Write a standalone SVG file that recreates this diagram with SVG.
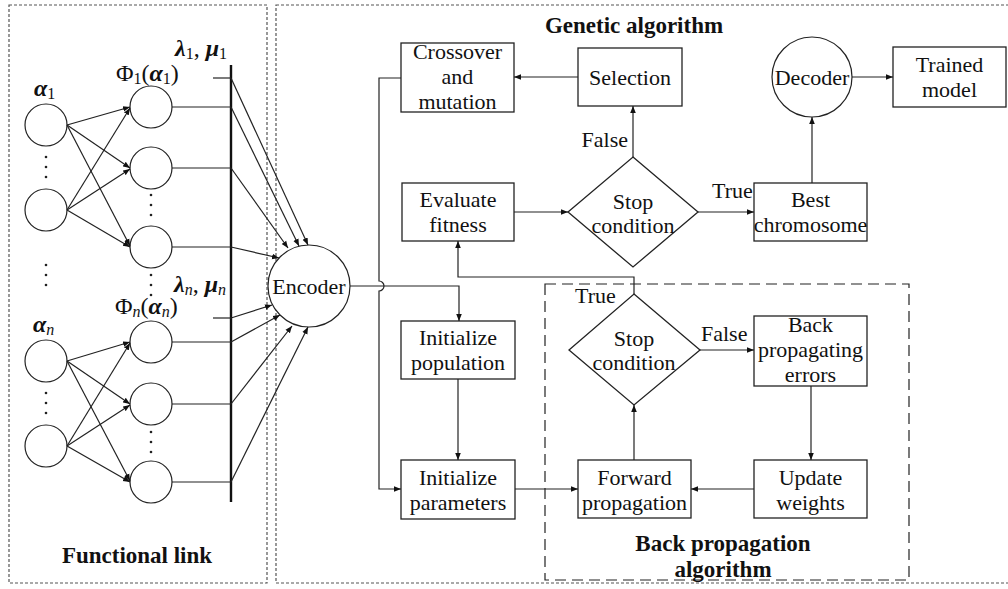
<svg xmlns="http://www.w3.org/2000/svg" width="1008" height="589" viewBox="0 0 1008 589" font-family="'Liberation Serif', 'Times New Roman', serif">
<defs>
<style>
text{font-family:'Liberation Serif','Times New Roman',Tinos,'DejaVu Serif',serif}
.t{font-size:22px;fill:#111;text-anchor:middle}
.ts{font-size:22px;fill:#111;text-anchor:start}
.te{font-size:22px;fill:#111;text-anchor:end}
.b{font-size:23px;font-weight:bold;fill:#111;text-anchor:middle}
.m{font-size:24px;fill:#111}
.bi{font-weight:bold;font-style:italic}
.it{font-style:italic}
.box{fill:#fff;stroke:#222;stroke-width:1.3}
.ln{fill:none;stroke:#222;stroke-width:1.2}
.cir{fill:#fff;stroke:#222;stroke-width:1.2}
.dot{fill:#222}
.outer{fill:none;stroke:#555;stroke-width:1.2;stroke-dasharray:3 2}
.bp{fill:none;stroke:#222;stroke-width:1.2;stroke-dasharray:11 6}
</style>
<marker id="ah" viewBox="0 0 10 10" refX="10" refY="5" markerWidth="7" markerHeight="7" orient="auto" markerUnits="userSpaceOnUse">
<path d="M0,1 L10,5 L0,9 z" fill="#111"/>
</marker>
</defs>
<rect width="1008" height="589" fill="#fff"/>

<g id="frames">
<rect class="outer" x="9" y="5" width="258" height="578"/>
<rect class="outer" x="276" y="5" width="740" height="578"/>
<rect class="bp" x="545" y="284" width="364" height="296"/>
</g>

<g id="functional-link">
<g id="input-nodes">
<circle class="cir" cx="46" cy="125" r="21"/>
<circle class="cir" cx="46" cy="210" r="21"/>
<circle class="cir" cx="46" cy="361" r="21"/>
<circle class="cir" cx="46" cy="446" r="21"/>
</g>
<g id="expansion-nodes">
<circle class="cir" cx="151" cy="107" r="21"/>
<circle class="cir" cx="151" cy="168" r="21"/>
<circle class="cir" cx="151" cy="247" r="21"/>
<circle class="cir" cx="151" cy="342" r="21"/>
<circle class="cir" cx="151" cy="404" r="21"/>
<circle class="cir" cx="151" cy="482" r="21"/>
</g>
<g id="dots">
<circle class="dot" cx="46" cy="157" r="1.3"/><circle class="dot" cx="46" cy="167" r="1.3"/><circle class="dot" cx="46" cy="177" r="1.3"/>
<circle class="dot" cx="46" cy="265" r="1.3"/><circle class="dot" cx="46" cy="275" r="1.3"/><circle class="dot" cx="46" cy="285" r="1.3"/>
<circle class="dot" cx="46" cy="393" r="1.3"/><circle class="dot" cx="46" cy="403" r="1.3"/><circle class="dot" cx="46" cy="413" r="1.3"/>
<circle class="dot" cx="151" cy="195" r="1.3"/><circle class="dot" cx="151" cy="205" r="1.3"/><circle class="dot" cx="151" cy="215" r="1.3"/>
<circle class="dot" cx="151" cy="275" r="1.3"/><circle class="dot" cx="151" cy="285" r="1.3"/><circle class="dot" cx="151" cy="295" r="1.3"/>
<circle class="dot" cx="151" cy="432" r="1.3"/><circle class="dot" cx="151" cy="442" r="1.3"/><circle class="dot" cx="151" cy="452" r="1.3"/>
</g>
<g id="bar">
<line x1="231" y1="65" x2="231" y2="502" stroke="#111" stroke-width="2.4"/>
</g>
<g id="math-labels">
<text class="m" x="175" y="56"><tspan class="bi">λ</tspan><tspan font-size="16" dy="3">1</tspan><tspan dy="-3">, </tspan><tspan class="bi">μ</tspan><tspan font-size="16" dy="3">1</tspan></text>
<text class="m" x="116" y="81"><tspan>Φ</tspan><tspan font-size="16" dy="3">1</tspan><tspan dy="-3">(</tspan><tspan class="bi">α</tspan><tspan font-size="16" dy="3">1</tspan><tspan dy="-3">)</tspan></text>
<text class="m" x="34" y="96"><tspan class="bi">α</tspan><tspan font-size="16" dy="3">1</tspan></text>
<text class="m" x="174" y="292"><tspan class="bi">λ</tspan><tspan font-size="16" dy="3" class="it">n</tspan><tspan dy="-3">, </tspan><tspan class="bi">μ</tspan><tspan font-size="16" dy="3" class="it">n</tspan></text>
<text class="m" x="115" y="314"><tspan>Φ</tspan><tspan font-size="16" dy="3" class="it">n</tspan><tspan dy="-3">(</tspan><tspan class="bi">α</tspan><tspan font-size="16" dy="3" class="it">n</tspan><tspan dy="-3">)</tspan></text>
<text class="m" x="33" y="332"><tspan class="bi">α</tspan><tspan font-size="16" dy="3" class="it">n</tspan></text>
</g>
<text class="b" x="137" y="563">Functional link</text>
</g>

<g id="encoder"><circle class="cir" cx="309" cy="286" r="41"/><text class="t" x="309" y="294">Encoder</text></g>
<g id="crossover"><rect class="box" x="401" y="43" width="113" height="69"/><text class="t" x="457.5" y="59">Crossover</text><text class="t" x="457.5" y="84">and</text><text class="t" x="457.5" y="109">mutation</text></g>
<g id="selection"><rect class="box" x="578" y="48" width="104" height="58"/><text class="t" x="630" y="85">Selection</text></g>
<g id="evaluate"><rect class="box" x="402" y="183" width="112" height="58"/><text class="t" x="458" y="207">Evaluate</text><text class="t" x="458" y="232">fitness</text></g>
<g id="stop-ga"><polygon class="box" points="633,157 698,212 633,267 568,212"/><text class="t" x="633" y="209">Stop</text><text class="t" x="633" y="233">condition</text></g>
<g id="best"><rect class="box" x="754" y="183" width="113" height="58"/><text class="t" x="810.5" y="207">Best</text><text class="t" x="810.5" y="232">chromosome</text></g>
<g id="decoder"><circle class="cir" cx="812" cy="77" r="40"/><text class="t" x="812" y="85">Decoder</text></g>
<g id="trained"><rect class="box" x="893" y="47" width="113" height="60" stroke-width="2.2"/><text class="t" x="949.5" y="72">Trained</text><text class="t" x="949.5" y="97">model</text></g>
<g id="init-pop"><rect class="box" x="401" y="321" width="114" height="58"/><text class="t" x="458" y="345">Initialize</text><text class="t" x="458" y="370">population</text></g>
<g id="init-par"><rect class="box" x="401" y="460" width="114" height="59"/><text class="t" x="458" y="485">Initialize</text><text class="t" x="458" y="510">parameters</text></g>
<g id="stop-bp"><polygon class="box" points="634,294 700,350 634,405 569,350"/><text class="t" x="634" y="346">Stop</text><text class="t" x="634" y="370">condition</text></g>
<g id="backprop"><rect class="box" x="754" y="316" width="113" height="70"/><text class="t" x="810.5" y="332">Back</text><text class="t" x="810.5" y="357">propagating</text><text class="t" x="810.5" y="382">errors</text></g>
<g id="update"><rect class="box" x="754" y="460" width="113" height="58"/><text class="t" x="810.5" y="485">Update</text><text class="t" x="810.5" y="510">weights</text></g>
<g id="forward"><rect class="box" x="578" y="460" width="113" height="58"/><text class="t" x="634.5" y="485">Forward</text><text class="t" x="634.5" y="510">propagation</text></g>

<g id="titles">
<text class="b" x="634" y="33">Genetic algorithm</text>
<text class="b" x="723" y="551">Back propagation</text>
<text class="b" x="723" y="577">algorithm</text>
</g>

<g id="connectors">
<g class="ln" marker-end="url(#ah)">
<line x1="67" y1="125" x2="130" y2="107"/>
<line x1="67" y1="125" x2="130" y2="168"/>
<line x1="67" y1="125" x2="130" y2="246"/>
<line x1="67" y1="210" x2="130" y2="108"/>
<line x1="67" y1="210" x2="130" y2="169"/>
<line x1="67" y1="210" x2="130" y2="247"/>
<line x1="67" y1="361" x2="130" y2="342"/>
<line x1="67" y1="361" x2="130" y2="404"/>
<line x1="67" y1="361" x2="130" y2="481"/>
<line x1="67" y1="446" x2="130" y2="343"/>
<line x1="67" y1="446" x2="130" y2="405"/>
<line x1="67" y1="446" x2="130" y2="482"/>
<line x1="231" y1="78" x2="308" y2="245"/>
<line x1="231" y1="107" x2="299" y2="246"/>
<line x1="231" y1="168" x2="288" y2="248"/>
<line x1="231" y1="247" x2="279" y2="258"/>
<line x1="231" y1="318" x2="272" y2="305"/>
<line x1="231" y1="342" x2="280" y2="315"/>
<line x1="231" y1="404" x2="292" y2="326"/>
<line x1="231" y1="482" x2="308" y2="327"/>
<path d="M350,286 H459 V321"/>
<path d="M401,78 H379 V281 A5,5 0 0 1 379,291 V489 H401"/>
<line x1="578" y1="77" x2="514" y2="77"/>
<line x1="514" y1="212" x2="568" y2="212"/>
<line x1="633" y1="157" x2="633" y2="106"/>
<line x1="698" y1="212" x2="754" y2="212"/>
<line x1="812" y1="183" x2="812" y2="117"/>
<line x1="852" y1="77" x2="893" y2="77"/>
<line x1="458" y1="379" x2="458" y2="460"/>
<line x1="515" y1="489" x2="578" y2="489"/>
<path d="M634,294 V277 H458 V241"/>
<line x1="700" y1="350" x2="754" y2="350"/>
<line x1="811" y1="386" x2="811" y2="460"/>
<line x1="754" y1="489" x2="691" y2="489"/>
<line x1="634" y1="460" x2="634" y2="405"/>
</g>
<g class="ln">
<line x1="172" y1="107" x2="231" y2="107"/>
<line x1="172" y1="168" x2="231" y2="168"/>
<line x1="172" y1="247" x2="231" y2="247"/>
<line x1="172" y1="342" x2="231" y2="342"/>
<line x1="172" y1="404" x2="231" y2="404"/>
<line x1="172" y1="482" x2="231" y2="482"/>
<line x1="213" y1="78" x2="231" y2="78"/>
<line x1="213" y1="318" x2="231" y2="318"/>
</g>
<g id="edge-labels">
<text class="te" x="628" y="147">False</text>
<text class="ts" x="712" y="198">True</text>
<text class="ts" x="575" y="303">True</text>
<text class="ts" x="701" y="341">False</text>
</g>
</g>
</svg>
